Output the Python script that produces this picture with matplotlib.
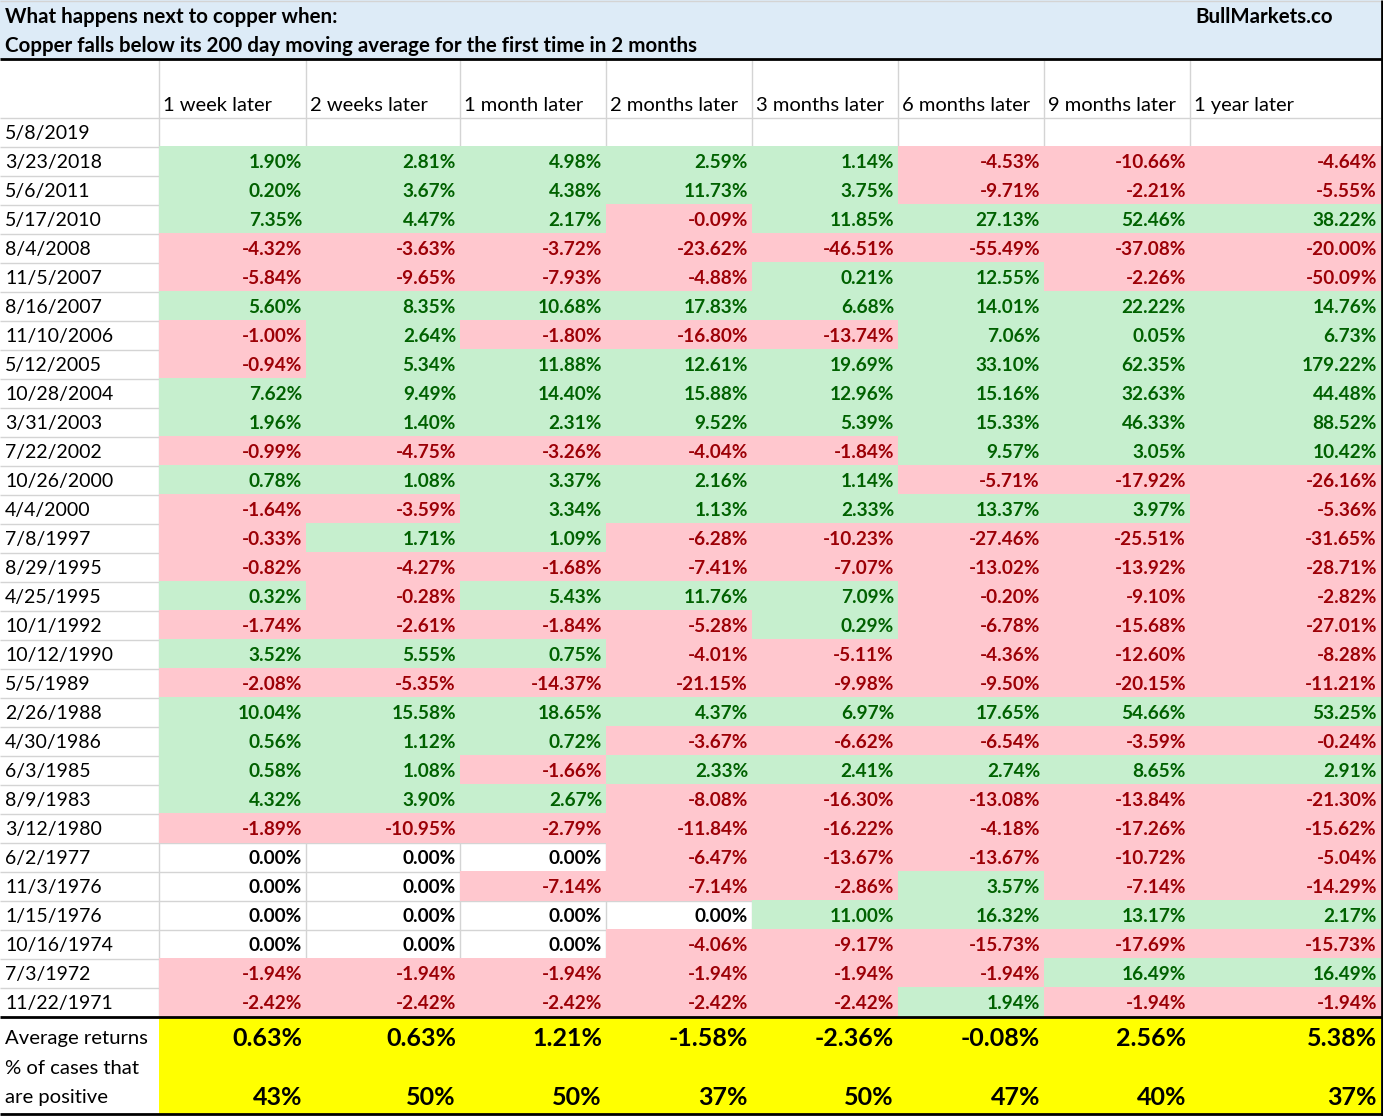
import matplotlib
matplotlib.use('Agg')
import matplotlib.pyplot as plt
from matplotlib.patches import Rectangle

# Copper below 200 DMA - forward returns table
title_1 = 'What happens next to copper when:'
title_2 = 'Copper falls below its 200 day moving average for the first time in 2 months'
brand = 'BullMarkets.co'

horizons = ['1 week later', '2 weeks later', '1 month later', '2 months later',
            '3 months later', '6 months later', '9 months later', '1 year later']

dates = ['5/8/2019', '3/23/2018', '5/6/2011', '5/17/2010', '8/4/2008', '11/5/2007',
         '8/16/2007', '11/10/2006', '5/12/2005', '10/28/2004', '3/31/2003', '7/22/2002',
         '10/26/2000', '4/4/2000', '7/8/1997', '8/29/1995', '4/25/1995', '10/1/1992',
         '10/12/1990', '5/5/1989', '2/26/1988', '4/30/1986', '6/3/1985', '8/9/1983',
         '3/12/1980', '6/2/1977', '11/3/1976', '1/15/1976', '10/16/1974', '7/3/1972',
         '11/22/1971']

# one row per date (None = no data yet)
returns = [
    None,
    [1.90, 2.81, 4.98, 2.59, 1.14, -4.53, -10.66, -4.64],
    [0.20, 3.67, 4.38, 11.73, 3.75, -9.71, -2.21, -5.55],
    [7.35, 4.47, 2.17, -0.09, 11.85, 27.13, 52.46, 38.22],
    [-4.32, -3.63, -3.72, -23.62, -46.51, -55.49, -37.08, -20.00],
    [-5.84, -9.65, -7.93, -4.88, 0.21, 12.55, -2.26, -50.09],
    [5.60, 8.35, 10.68, 17.83, 6.68, 14.01, 22.22, 14.76],
    [-1.00, 2.64, -1.80, -16.80, -13.74, 7.06, 0.05, 6.73],
    [-0.94, 5.34, 11.88, 12.61, 19.69, 33.10, 62.35, 179.22],
    [7.62, 9.49, 14.40, 15.88, 12.96, 15.16, 32.63, 44.48],
    [1.96, 1.40, 2.31, 9.52, 5.39, 15.33, 46.33, 88.52],
    [-0.99, -4.75, -3.26, -4.04, -1.84, 9.57, 3.05, 10.42],
    [0.78, 1.08, 3.37, 2.16, 1.14, -5.71, -17.92, -26.16],
    [-1.64, -3.59, 3.34, 1.13, 2.33, 13.37, 3.97, -5.36],
    [-0.33, 1.71, 1.09, -6.28, -10.23, -27.46, -25.51, -31.65],
    [-0.82, -4.27, -1.68, -7.41, -7.07, -13.02, -13.92, -28.71],
    [0.32, -0.28, 5.43, 11.76, 7.09, -0.20, -9.10, -2.82],
    [-1.74, -2.61, -1.84, -5.28, 0.29, -6.78, -15.68, -27.01],
    [3.52, 5.55, 0.75, -4.01, -5.11, -4.36, -12.60, -8.28],
    [-2.08, -5.35, -14.37, -21.15, -9.98, -9.50, -20.15, -11.21],
    [10.04, 15.58, 18.65, 4.37, 6.97, 17.65, 54.66, 53.25],
    [0.56, 1.12, 0.72, -3.67, -6.62, -6.54, -3.59, -0.24],
    [0.58, 1.08, -1.66, 2.33, 2.41, 2.74, 8.65, 2.91],
    [4.32, 3.90, 2.67, -8.08, -16.30, -13.08, -13.84, -21.30],
    [-1.89, -10.95, -2.79, -11.84, -16.22, -4.18, -17.26, -15.62],
    [0.00, 0.00, 0.00, -6.47, -13.67, -13.67, -10.72, -5.04],
    [0.00, 0.00, -7.14, -7.14, -2.86, 3.57, -7.14, -14.29],
    [0.00, 0.00, 0.00, 0.00, 11.00, 16.32, 13.17, 2.17],
    [0.00, 0.00, 0.00, -4.06, -9.17, -15.73, -17.69, -15.73],
    [-1.94, -1.94, -1.94, -1.94, -1.94, -1.94, 16.49, 16.49],
    [-2.42, -2.42, -2.42, -2.42, -2.42, 1.94, -1.94, -1.94],
]

avg_returns = [0.63, 0.63, 1.21, -1.58, -2.36, -0.08, 2.56, 5.38]
pct_positive = [43, 50, 50, 37, 50, 47, 40, 37]

# layout (pixels)
W, H = 1383, 1116
col_edges = [0, 159, 306, 460, 606, 752, 898, 1044, 1190, 1381]
head_top, head_bot = 60, 117.5
row_h = 29
data_bot = head_bot + row_h * len(dates)
foot_bot = 1114

green_bg, green_fg = '#C6EFCE', '#006100'
red_bg, red_fg = '#FFC7CE', '#9C0006'
grid = '#D4D4D4'
font = 'Lato'
fs = 14

fig = plt.figure(figsize=(W / 100, H / 100), dpi=100)
ax = fig.add_axes([0, 0, 1, 1])
ax.set_xlim(0, W)
ax.set_ylim(H, 0)
ax.axis('off')

# title band
ax.add_patch(Rectangle((0, 0), col_edges[-1], 58.5, facecolor='#DDEBF7', edgecolor='none'))
ax.hlines(0.5, 0, col_edges[-1], color=grid, lw=1)
ax.text(5, 23, title_1, fontsize=14.8, fontweight='bold', family=font)
ax.text(5, 52, title_2, fontsize=14.8, fontweight='bold', family=font)
ax.text(1195, 23, brand, fontsize=14.8, fontweight='bold', family=font)

# grid lines
ax.vlines(col_edges[1:-1], head_top, data_bot, color=grid, lw=1)
ax.hlines([head_bot + row_h * i for i in range(len(dates))], 0, col_edges[-1], color=grid, lw=1)

# column headers
for j, lab in enumerate(horizons):
    ax.text(col_edges[j + 1] + 4, 111, lab, fontsize=fs + 0.5, family=font)

# data rows
for i, (d, vals) in enumerate(zip(dates, returns)):
    top = head_bot + row_h * i
    base = top + 21.5
    ax.text(5, base, d, fontsize=fs, family=font)
    if vals is None:
        continue
    for j, v in enumerate(vals):
        x0, x1 = col_edges[j + 1], col_edges[j + 2]
        if v > 0:
            bg, fg = green_bg, green_fg
        elif v < 0:
            bg, fg = red_bg, red_fg
        else:
            bg, fg = None, 'black'
        if bg:
            ax.add_patch(Rectangle((x0 - 0.5, top - 0.5), x1 - x0 + 1, row_h + 1,
                                   facecolor=bg, edgecolor='none', zorder=2))
        ax.text(x1 - 4, base, f'{v:.2f}%', fontsize=fs - 0.3, fontweight='bold',
                family=font, color=fg, ha='right', zorder=3)

# footer
ax.add_patch(Rectangle((col_edges[1], data_bot), col_edges[-1] - col_edges[1],
                       foot_bot - data_bot, facecolor='#FFFF00', edgecolor='none', zorder=2))
ax.text(5, 1044, 'Average returns', fontsize=fs + 0.6, family=font)
ax.text(5, 1074, '% of cases that', fontsize=fs + 0.6, family=font)
ax.text(5, 1103, 'are positive', fontsize=fs + 0.6, family=font)
for j in range(len(horizons)):
    x1 = col_edges[j + 2]
    ax.text(x1 - 4, 1046, f'{avg_returns[j]:.2f}%', fontsize=18, fontweight='bold',
            family=font, ha='right', zorder=3)
    ax.text(x1 - 4, 1105, f'{pct_positive[j]}%', fontsize=18, fontweight='bold',
            family=font, ha='right', zorder=3)

# heavy borders
ax.hlines([59, data_bot, foot_bot], 0, col_edges[-1] + 1, color='black', lw=2, zorder=4)
ax.vlines(col_edges[-1] + 0.5, 0, H, color='black', lw=2, zorder=4)

fig.savefig('out.png', dpi=100)
